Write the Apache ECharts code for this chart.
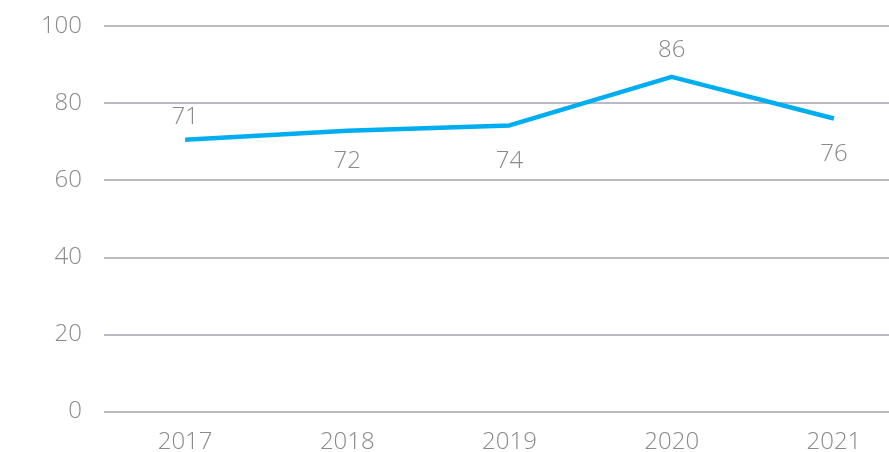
<!doctype html>
<html>
<head>
    <meta charset="utf-8">
    <title>chart</title>
    <script src="https://cdn.jsdelivr.net/npm/echarts@6/dist/echarts.min.js"></script>
</head>
<body style="margin:0;padding:0;background:#fff;">
    <div id="tb" style="width:889px;height:452px;"></div>
    <script>
        // data
        var years = ['2017', '2018', '2019', '2020', '2021'];
        var values = [70.5, 72.8, 74.2, 86.8, 76.0];
        var valueLabels = ['71', '72', '74', '86', '76'];
        var yTicks = [0, 20, 40, 60, 80, 100];

        // label placement (style)
        var labelPos = ['top', 'bottom', 'bottom', 'top', 'bottom'];
        var labelDist = [10, 18, 23, 14, 23];

        var textColor = '#8a8a8a';
        var fontFam = 'Open Sans';

        var chart = echarts.init(document.getElementById('tb'));
        chart.setOption({
            animation: false,
            grid: {
                left: 104,
                top: 26,
                width: 811,
                height: 385.5,
                outerBoundsMode: 'none'
            },
            xAxis: {
                type: 'category',
                data: years,
                boundaryGap: true,
                axisLine: { show: false },
                axisTick: { show: false },
                axisLabel: {
                    color: textColor,
                    fontSize: 24,
                    fontFamily: fontFam,
                    fontWeight: 300,
                    margin: 19
                }
            },
            yAxis: {
                type: 'value',
                min: yTicks[0],
                max: yTicks[yTicks.length - 1],
                interval: 20,
                axisLine: { show: false },
                axisTick: { show: false },
                axisLabel: {
                    color: textColor,
                    fontSize: 24,
                    fontFamily: fontFam,
                    fontWeight: 300,
                    margin: 22
                },
                splitLine: {
                    lineStyle: { color: '#bcb8c6', width: 2 }
                }
            },
            series: [{
                type: 'line',
                symbol: 'circle',
                symbolSize: 1,
                showSymbol: true,
                itemStyle: { color: 'rgba(0,0,0,0)' },
                lineStyle: { color: '#00aeef', width: 4.5 },
                data: values.map(function (v, i) {
                    return {
                        value: v,
                        label: {
                            show: true,
                            position: labelPos[i],
                            distance: labelDist[i],
                            formatter: valueLabels[i],
                            color: textColor,
                            fontSize: 24,
                            fontFamily: fontFam,
                            fontWeight: 300
                        }
                    };
                })
            }]
        });
    </script>
</body>
</html>
